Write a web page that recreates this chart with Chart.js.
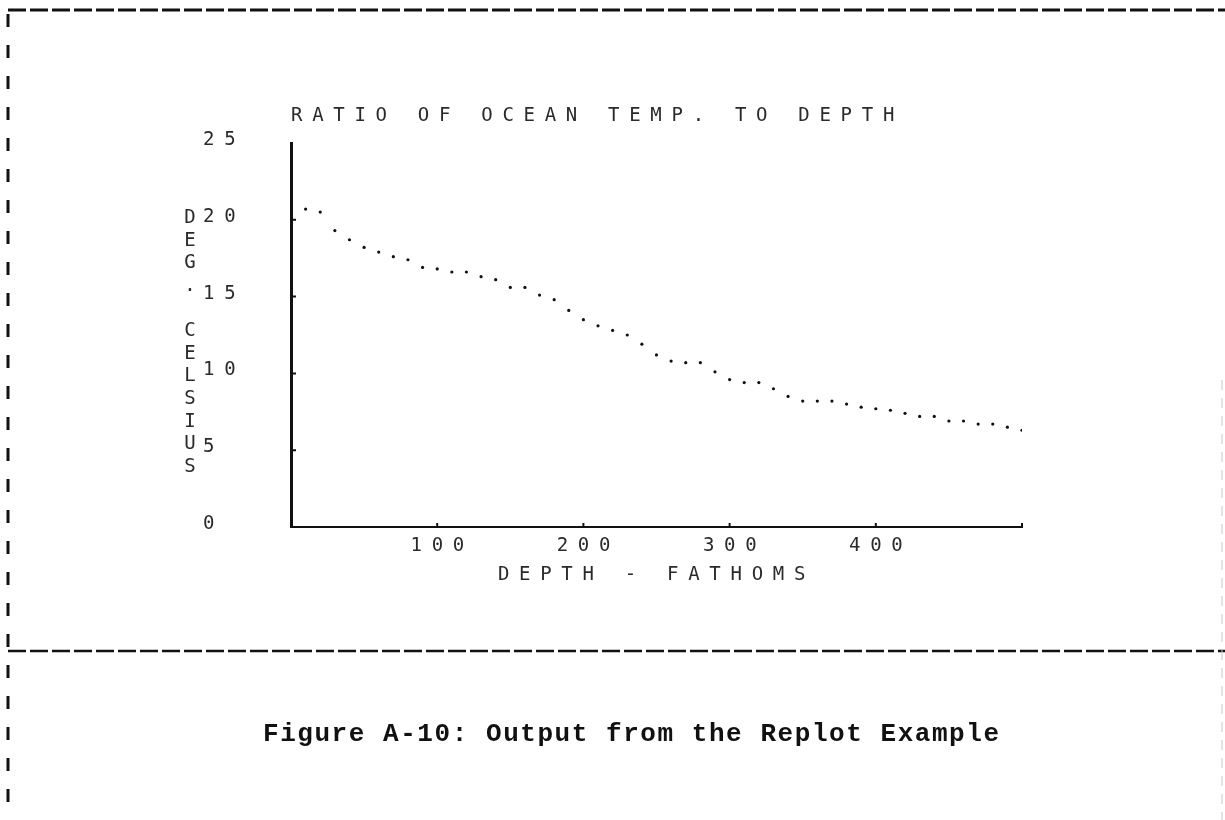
<!DOCTYPE html>
<html>
<head>
<meta charset="utf-8">
<script src="https://cdn.jsdelivr.net/npm/chart.js@4.4.1/dist/chart.umd.min.js"></script>
<style>
  html, body { margin: 0; padding: 0; background: #fff; }
  #wrap { position: relative; width: 1225px; height: 820px; overflow: hidden; }
  #myChart { position: absolute; left: 0; top: 0; }
  #caption {
    position: absolute; left: 263px; top: 719px;
    font: bold 26px/30px 'Liberation Mono', monospace;
    letter-spacing: 1.55px; color: #111; white-space: nowrap;
  }
</style>
</head>
<body>
<div id="wrap">
  <canvas id="myChart" width="1225" height="820"></canvas>
  <div id="caption">Figure A-10: Output from the Replot Example</div>
</div>
<script>
// depth in fathoms, temperature in deg. celsius
const depth = [10, 20, 30, 40, 50, 60, 70, 80, 90, 100,
               110, 120, 130, 140, 150, 160, 170, 180, 190, 200,
               210, 220, 230, 240, 250, 260, 270, 280, 290, 300,
               310, 320, 330, 340, 350, 360, 370, 380, 390, 400,
               410, 420, 430, 440, 450, 460, 470, 480, 490, 500];
const temp = [20.7, 20.5, 19.3, 18.7, 18.2, 17.9, 17.6, 17.4, 16.9, 16.8,
              16.6, 16.6, 16.3, 16.1, 15.6, 15.6, 15.1, 14.8, 14.1, 13.5,
              13.1, 12.8, 12.5, 11.9, 11.2, 10.8, 10.7, 10.7, 10.1, 9.6,
              9.4, 9.4, 9.0, 8.5, 8.2, 8.2, 8.2, 8.0, 7.8, 7.7,
              7.6, 7.4, 7.2, 7.2, 6.9, 6.9, 6.7, 6.7, 6.5, 6.3];
const xTicks = [100, 200, 300, 400];
const yTicks = [0, 5, 10, 15, 20, 25];
const chartTitle = 'RATIO OF OCEAN TEMP. TO DEPTH';
const xTitle = 'DEPTH - FATHOMS';
const yTitle = 'DEG. CELSIUS';

const ink = '#2a2a2a';
const plotFont = { family: '"DejaVu Sans Mono", monospace', size: 19, weight: 'normal' };
const spread = '9.7px'; // wide plotter lettering

// plotter text is very wide, so space the letters out
const spacing = {
    id: 'spacing',
    beforeLayout(chart) { chart.ctx.letterSpacing = spread; },
    beforeDraw(chart) { chart.ctx.letterSpacing = spread; }
};

// dashed page frame
const frame = {
    id: 'frame',
    beforeDraw(chart) {
        const ctx = chart.ctx;
        const line = (x1, y1, x2, y2) => { ctx.beginPath(); ctx.moveTo(x1, y1); ctx.lineTo(x2, y2); ctx.stroke(); };
        ctx.save();
        ctx.strokeStyle = '#111';
        ctx.lineWidth = 3;
        ctx.setLineDash([18, 4]);
        line(8, 10, 1225, 10);
        ctx.lineWidth = 2.5;
        line(8, 651, 1225, 651);
        ctx.lineWidth = 3;
        ctx.setLineDash([13, 18]);
        line(8, 14, 8, 820);
        ctx.strokeStyle = '#c8c8c8';
        ctx.lineWidth = 1;
        ctx.setLineDash([10, 8]);
        line(1222, 380, 1222, 820);
        ctx.restore();
    }
};

// small inward tick marks and the stacked y-axis title
const marks = {
    id: 'marks',
    afterDraw(chart) {
        const {ctx, chartArea, scales: {x, y}} = chart;
        ctx.save();
        ctx.strokeStyle = '#111';
        ctx.lineWidth = 2;
        ctx.beginPath();
        yTicks.slice(1, -1).forEach(v => {
            const py = y.getPixelForValue(v);
            ctx.moveTo(chartArea.left, py);
            ctx.lineTo(chartArea.left + 5, py);
        });
        xTicks.concat([x.max]).forEach(v => {
            const px = x.getPixelForValue(v);
            ctx.moveTo(px, chartArea.bottom);
            ctx.lineTo(px, chartArea.bottom - 4);
        });
        ctx.stroke();

        ctx.letterSpacing = '0px';
        ctx.font = plotFont.size + 'px ' + plotFont.family;
        ctx.fillStyle = ink;
        ctx.textAlign = 'center';
        ctx.textBaseline = 'middle';
        const top = y.getPixelForValue(20) - 1.5;
        [...yTitle].forEach((ch, i) => {
            ctx.fillText(ch, chartArea.left - 101, top + i * 22.6);
        });
        ctx.restore();
    }
};

const ctx = document.getElementById('myChart');
new Chart(ctx, {
    type: 'scatter',
    data: {
        datasets: [{
            label: yTitle,
            data: depth.map((d, i) => ({ x: d, y: temp[i] })),
            pointRadius: 1.6,
            pointHoverRadius: 1.6,
            pointBorderWidth: 0,
            backgroundColor: '#111',
            borderColor: '#111',
            showLine: false
        }]
    },
    options: {
        responsive: false,
        animation: false,
        events: [],
        layout: {
            padding: { left: 203, right: 203, top: 0, bottom: 233 }
        },
        plugins: {
            legend: { display: false },
            tooltip: { enabled: false },
            title: {
                display: true,
                text: chartTitle,
                color: ink,
                font: plotFont,
                align: 'start',
                fullSize: false,
                padding: { top: 104.6, bottom: 15.6 }
            }
        },
        scales: {
            x: {
                type: 'linear',
                min: 0,
                max: 500,
                afterBuildTicks: (scale) => { scale.ticks = xTicks.map(v => ({ value: v })); },
                afterFit: (scale) => { scale.height = 60; },
                grid: { display: false, drawTicks: false },
                border: { display: true, color: '#111', width: 2 },
                ticks: { color: ink, font: plotFont, padding: 8, maxRotation: 0, labelOffset: 5 },
                title: {
                    display: true,
                    text: xTitle,
                    color: ink,
                    font: plotFont,
                    padding: { top: 8, bottom: 1 }
                }
            },
            y: {
                min: 0,
                max: 25,
                afterBuildTicks: (scale) => { scale.ticks = yTicks.map(v => ({ value: v })); },
                afterFit: (scale) => { scale.width = 88; },
                grid: { display: false, drawTicks: false },
                border: { display: true, color: '#111', width: 3 },
                ticks: { color: ink, font: plotFont, crossAlign: 'far', padding: 8, labelOffset: -3 }
            }
        }
    },
    plugins: [spacing, frame, marks]
});
</script>
</body>
</html>
